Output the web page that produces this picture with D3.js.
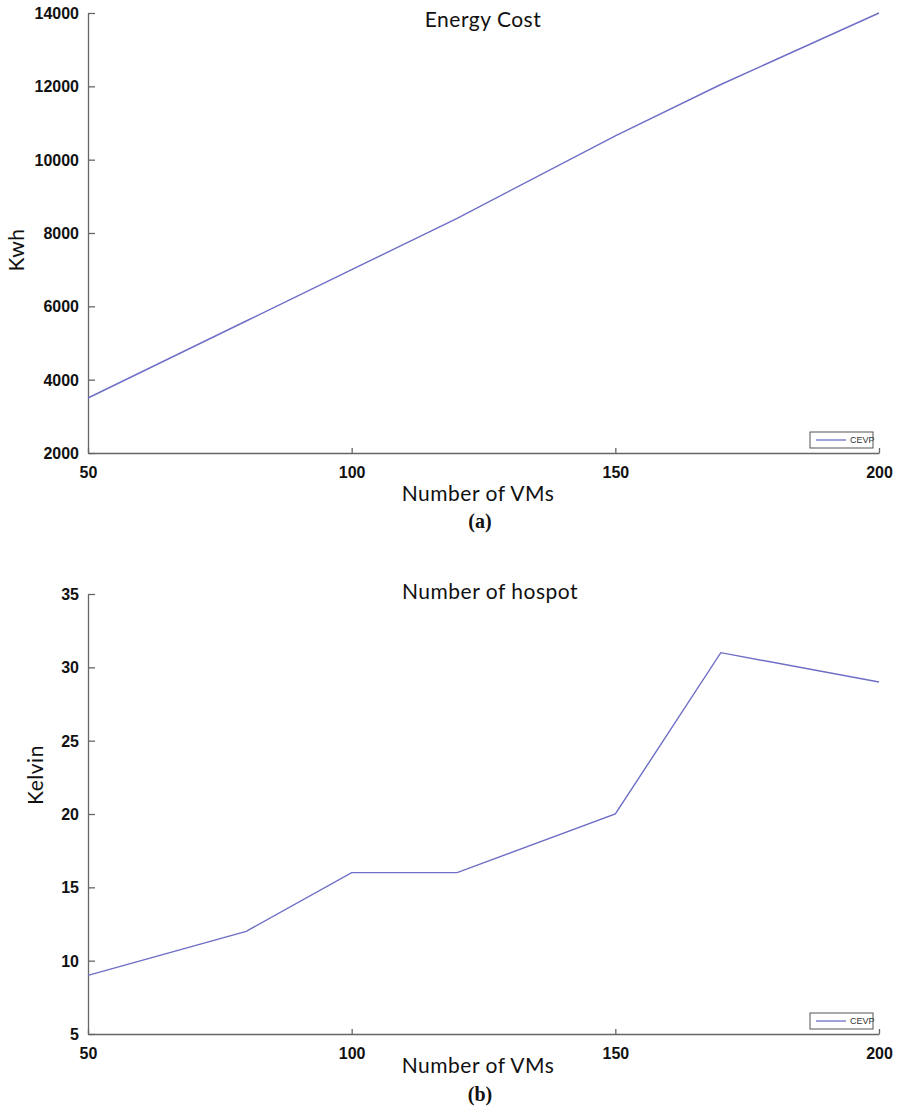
<!DOCTYPE html>
<html><head><meta charset="utf-8">
<script src="https://cdn.jsdelivr.net/npm/d3@7"></script>
<style>
body{margin:0;background:#fff;}
svg{display:block;}
.tick text{font-family:"Liberation Sans",Arial,sans-serif;font-size:16px;font-weight:bold;fill:#111;}
.ttl{font-family:Lato,"Open Sans",sans-serif;font-size:21px;letter-spacing:0.5px;fill:#111;}
.cap{font-family:"Liberation Serif","Times New Roman",serif;font-size:20px;font-weight:bold;fill:#111;}
</style></head><body>
<svg id="c" width="898" height="1110"></svg>
<script>
const vms = [50, 80, 100, 120, 150, 170, 200];
const energyCost = [3500, 5600, 7000, 8400, 10650, 12050, 14000];
const hotspots = [9, 12, 16, 16, 20, 31, 29];
const xTicks = [50, 100, 150, 200];
const energyTicks = [2000, 4000, 6000, 8000, 10000, 12000, 14000];
const hotTicks = [5, 10, 15, 20, 25, 30, 35];
const seriesName = "CEVP";

const svg = d3.select("#c");
const lineColor = "#6e6ec6";
const axisColor = "#666";

function panel(cfg){
  const g = svg.append("g");
  const x = d3.scaleLinear().domain([50,200]).range([88,879]);
  const y = d3.scaleLinear().domain(cfg.yDomain).range([cfg.bottom, cfg.top]);

  // y axis
  const ya = g.append("g").attr("transform","translate(88,0)")
    .call(d3.axisRight(y).tickValues(cfg.yTicks).tickSize(7).tickSizeOuter(0).tickFormat(d3.format("d")));
  ya.select(".domain").attr("stroke",axisColor).attr("stroke-width",1.3);
  ya.selectAll(".tick line").attr("stroke",axisColor).attr("stroke-width",1.3);
  ya.selectAll(".tick text").attr("x",-9).attr("text-anchor","end").attr("dy","0.35em");

  // x axis
  const xa = g.append("g").attr("transform",`translate(0,${cfg.bottom})`)
    .call(d3.axisTop(x).tickValues(xTicks).tickSize(5).tickSizeOuter(0).tickFormat(d3.format("d")));
  xa.select(".domain").attr("stroke",axisColor).attr("stroke-width",1.3);
  xa.selectAll(".tick line").attr("stroke",axisColor).attr("stroke-width",1.3);
  xa.selectAll(".tick text").attr("y",19).attr("dy","0.35em");

  // line
  const line = d3.line().x((d,i)=>x(vms[i])).y(d=>y(d));
  g.append("path").datum(cfg.values).attr("d",line)
    .attr("fill","none").attr("stroke",lineColor).attr("stroke-width",1.4);

  // titles
  g.append("text").attr("class","ttl").attr("x",cfg.titleX).attr("y",cfg.titleY)
    .attr("text-anchor","middle").attr("dy","0.35em").text(cfg.title);
  g.append("text").attr("class","ttl").attr("x",478).attr("y",cfg.xlabY)
    .attr("text-anchor","middle").attr("dy","0.35em").text("Number of VMs");
  g.append("text").attr("class","ttl")
    .attr("transform",`translate(${cfg.ylabX},${cfg.ylabY}) rotate(-90)`)
    .attr("text-anchor","middle").attr("dy","0.35em").text(cfg.ylab);
  g.append("text").attr("class","cap").attr("x",480).attr("y",cfg.capY)
    .attr("text-anchor","middle").attr("dy","0.35em").text(cfg.cap);

  // legend
  const lg = g.append("g").attr("transform",`translate(810,${cfg.bottom-21})`);
  lg.append("rect").attr("width",63).attr("height",16).attr("fill","#fff")
    .attr("stroke","#555").attr("stroke-width",1);
  lg.append("line").attr("x1",6).attr("x2",36).attr("y1",8).attr("y2",8)
    .attr("stroke",lineColor).attr("stroke-width",1.3);
  lg.append("text").attr("x",40).attr("y",8).attr("dy","0.35em")
    .attr("font-family","'Liberation Sans Narrow','Arial Narrow',sans-serif")
    .attr("font-size",9).attr("fill","#333").text(seriesName);
}

panel({yDomain:[2000,14000], yTicks:energyTicks, top:13, bottom:453, values:energyCost,
  title:"Energy Cost", titleX:483, titleY:20, xlabY:494, ylab:"Kwh", ylabX:17, ylabY:250, cap:"(a)", capY:521});
panel({yDomain:[5,35], yTicks:hotTicks, top:594, bottom:1034, values:hotspots,
  title:"Number of hospot", titleX:490, titleY:592, xlabY:1066, ylab:"Kelvin", ylabX:36, ylabY:775, cap:"(b)", capY:1094});
</script>
</body></html>
